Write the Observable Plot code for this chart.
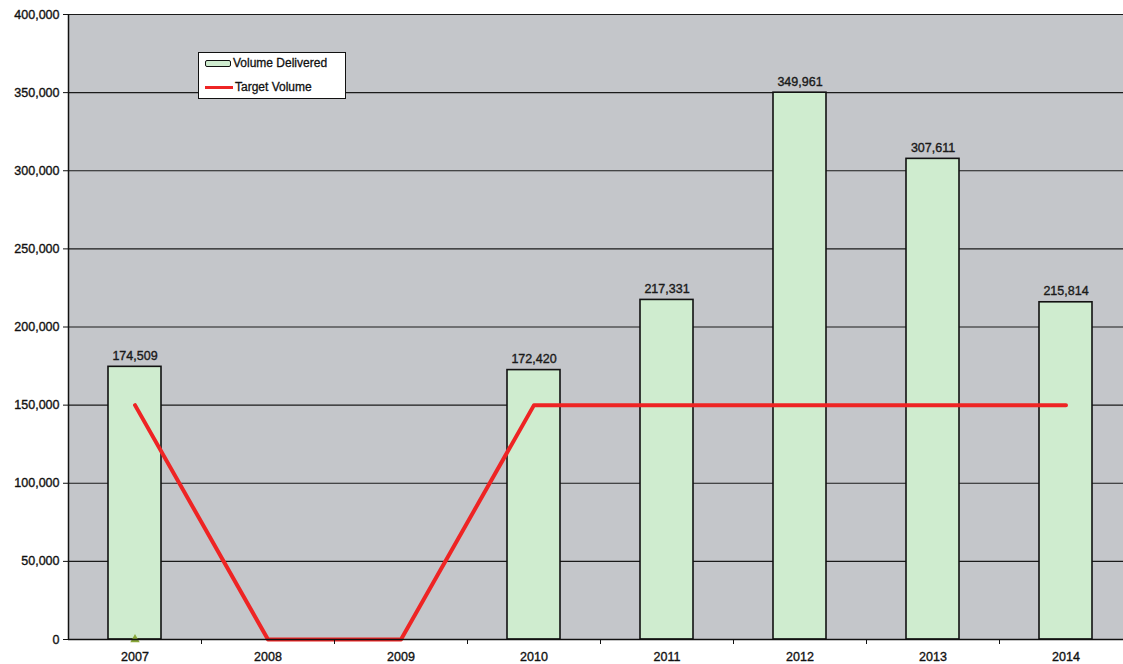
<!DOCTYPE html>
<html>
<head>
<meta charset="utf-8">
<script src="https://cdn.jsdelivr.net/npm/d3@7"></script>
<script src="https://cdn.jsdelivr.net/npm/@observablehq/plot@0.6"></script>
<style>
  html, body { margin: 0; padding: 0; background: #ffffff; }
  #wrap { position: relative; width: 1123px; height: 664px; overflow: hidden; }
  #chart svg text { stroke: #111; stroke-width: 0.35px; paint-order: stroke; }
  #legend { position: absolute; left: 198px; top: 52px; width: 146px; height: 45px;
    background: #ffffff; border: 1px solid #111; font-family: "Liberation Sans", Arial, sans-serif;
    font-size: 12px; color: #111; -webkit-text-stroke: 0.3px #111; }
  .row { position: absolute; left: 6px; display: flex; align-items: center; }
  .sw { width: 26px; background: #cfeccf; border: 1.5px solid #111; border-radius: 2px; margin-right: 2px; box-sizing: border-box; height: 7px; }
  .ln { width: 28px; height: 3px; background: #ee2424; margin-right: 2px; }
</style>
</head>
<body>
<div id="wrap">
  <div id="chart"></div>
  <div id="legend">
    <div class="row" style="top:3px"><div class="sw"></div><span>Volume Delivered</span></div>
    <div class="row" style="top:27px"><div class="ln"></div><span>Target Volume</span></div>
  </div>
</div>
<script>
const years = ["2007", "2008", "2009", "2010", "2011", "2012", "2013", "2014"];
const delivered = [174509, null, null, 172420, 217331, 349961, 307611, 215814];
const target = [150000, 0, 0, 150000, 150000, 150000, 150000, 150000];
const yTicks = [0, 50000, 100000, 150000, 200000, 250000, 300000, 350000, 400000];

const rows = years.map((y, i) => ({year: y, delivered: delivered[i], target: target[i]}));
const barRows = rows.filter(d => d.delivered != null);
const fmt = d3.format(",");

const chart = Plot.plot({
  width: 1123,
  height: 664,
  marginTop: 14,
  marginBottom: 25,
  marginLeft: 68,
  marginRight: 0,
  style: {fontFamily: "'Liberation Sans', Arial, sans-serif", fontSize: "12px", color: "#111", background: "transparent"},
  x: {type: "band", domain: years, range: [68, 1132], paddingInner: 0.6, paddingOuter: 0.3, label: null},
  y: {domain: [0, 400000], label: null},
  marks: [
    Plot.frame({fill: "#c4c6ca", stroke: null}),
    Plot.gridY(yTicks, {stroke: "#1a1a1a", strokeOpacity: 1, strokeWidth: 1.2}),
    Plot.barY(barRows, {x: "year", y: "delivered", fill: "#cfeccf", stroke: "#111", strokeWidth: 1.6}),
    Plot.text(barRows, {x: "year", y: "delivered", text: d => fmt(d.delivered), dy: -11, fontSize: 12.5, fill: "#1a1a1a"}),
    Plot.line(rows, {x: "year", y: "target", stroke: "#ee2424", strokeWidth: 4}),
    Plot.dot([years[0]], {x: d => d, y: () => 0, symbol: "triangle", r: 3.5, fill: "#8aa83a", stroke: null}),
    Plot.ruleX([years[0]], {x: d => d, dx: -66.5, y1: () => 0, y2: () => 400000, stroke: "#111", strokeWidth: 1.5}),
    Plot.ruleY([0], {stroke: "#111", strokeWidth: 1.5}),
    Plot.ruleX(years.slice(0, 7), {x: d => d, dx: 66.5, y1: () => 0, y2: () => 0, insetBottom: -5, stroke: "#111"}),
    Plot.axisY(yTicks, {tickSize: 5, tickPadding: 4, tickFormat: fmt, fontSize: 12.5, fill: "#111"}),
    Plot.axisX({tickSize: 0, tickPadding: 13, fontSize: 12.5, fill: "#111"})
  ]
});
document.getElementById("chart").appendChild(chart);
</script>
</body>
</html>
